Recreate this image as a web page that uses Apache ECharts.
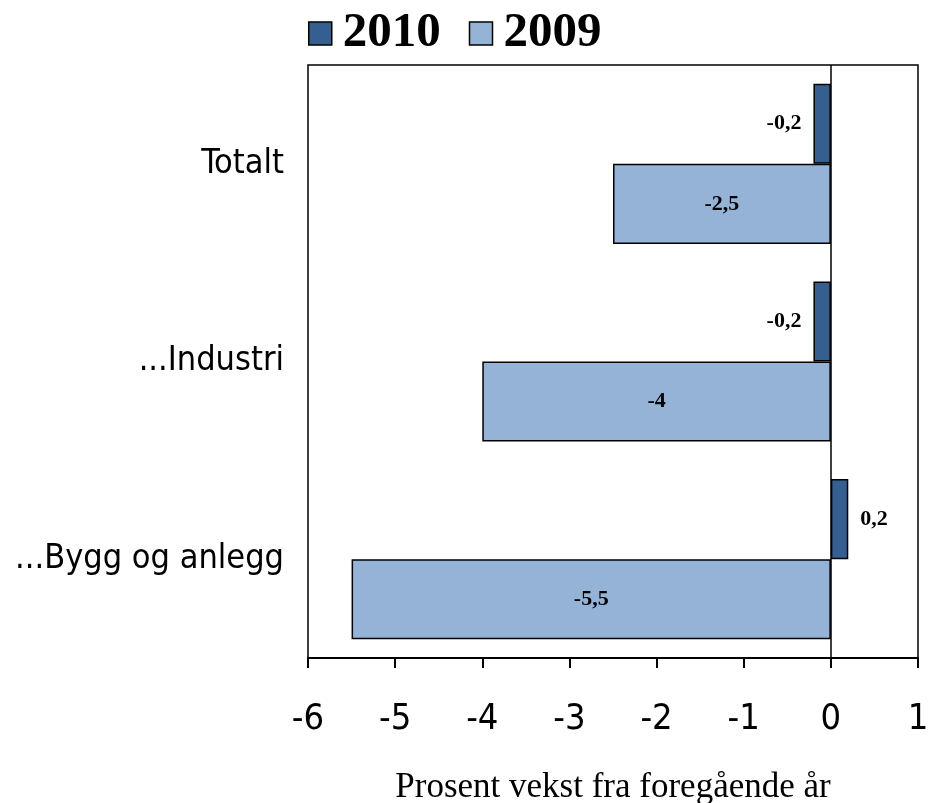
<!DOCTYPE html>
<html><head><meta charset="utf-8">
<script src="https://cdn.jsdelivr.net/npm/echarts@6/dist/echarts.min.js"></script>
<style>html,body{margin:0;padding:0;background:#fff}#c{width:930px;height:803px}</style>
</head><body><div id="c"></div>
<script>
const categories = ['...Bygg og anlegg', '...Industri', 'Totalt'];
const values2010 = [0.2, -0.2, -0.2];
const values2009 = [-5.5, -4, -2.5];
const seriesNames = ['2010', '2009'];
const axisTitle = 'Prosent vekst fra foregående år';

const fmt = p => String(p.value).replace('.', ',');
const sans = 'DejaVu Sans Condensed, DejaVu Sans';
const chart = echarts.init(document.getElementById('c'));
chart.setOption({
  animation: false,
  legend: {
    data: seriesNames, left: 303, top: 4, icon: 'rect', itemWidth: 23, itemHeight: 23, itemGap: 28,
    textStyle: {fontFamily: 'Liberation Serif', fontWeight: 'bold', fontSize: 49, color: '#000', padding: [0, 0, 0, 6]},
    itemStyle: {borderColor: '#000', borderWidth: 1.5}
  },
  grid: {left: 308, right: 12, top: 65, bottom: 145, containLabel: false, outerBoundsMode: 'none', show: true, borderColor: '#000', borderWidth: 1.5},
  xAxis: {
    type: 'value', min: -6, max: 1, interval: 1,
    splitLine: {show: false},
    axisLine: {show: true, onZero: false, lineStyle: {color: '#000', width: 2}},
    axisTick: {show: true, length: 10, lineStyle: {color: '#000', width: 2}},
    axisLabel: {fontFamily: sans, fontSize: 36, color: '#000', margin: 44},
    name: axisTitle, nameLocation: 'middle', nameGap: 112,
    nameTextStyle: {fontFamily: 'Liberation Serif', fontSize: 35, color: '#000'}
  },
  yAxis: {
    type: 'category', data: categories,
    axisLine: {show: false}, axisTick: {show: false},
    axisLabel: {fontFamily: sans, fontSize: 34, color: '#000', margin: 24}
  },
  series: [
    {
      name: '2010', type: 'bar', barGap: '0%', barCategoryGap: '19%',
      data: values2010.map(v => ({value: v, label: {position: v < 0 ? 'left' : 'right'}})),
      itemStyle: {color: '#365F91', borderColor: '#000', borderWidth: 1.5},
      label: {show: true, distance: 12, formatter: fmt, fontFamily: 'Liberation Serif', fontWeight: 'bold', fontSize: 22, color: '#000'}
    },
    {
      name: '2009', type: 'bar', barGap: '0%', barCategoryGap: '19%',
      data: values2009,
      itemStyle: {color: '#95B3D7', borderColor: '#000', borderWidth: 1.5},
      label: {show: true, position: 'inside', formatter: fmt, fontFamily: 'Liberation Serif', fontWeight: 'bold', fontSize: 22, color: '#000'},
      markLine: {silent: true, symbol: 'none', label: {show: false}, lineStyle: {color: '#000', width: 1.5, type: 'solid'}, data: [{xAxis: 0}]}
    }
  ]
});
</script></body></html>
